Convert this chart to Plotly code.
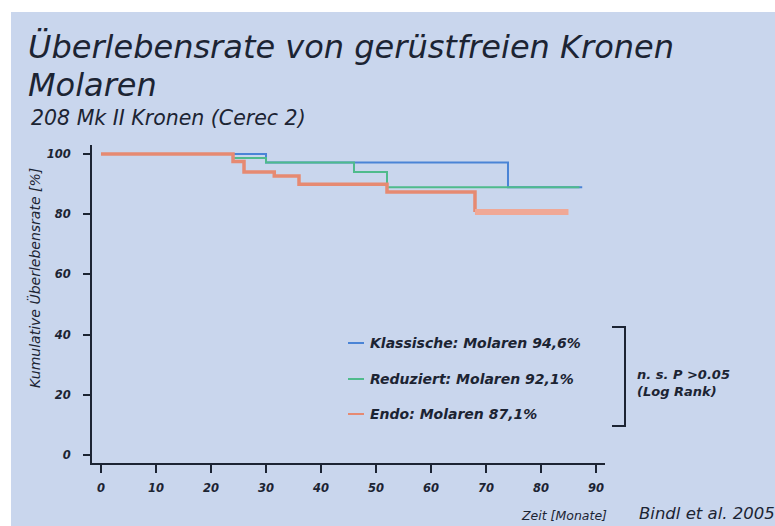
import plotly.graph_objects as go

# ---- data ----
klass_t = [0, 30, 74, 87.5]
klass_s = [100, 97.2, 89, 89]
reduz_t = [0, 24, 30, 46, 52, 87]
reduz_s = [100, 98.7, 97.2, 94, 89, 89]
endo_t = [0, 24, 26, 31.5, 36, 52, 68]
endo_s = [100, 97.5, 94, 92.7, 90, 87.4, 80.7]
endo_tail_t = [68, 85]
endo_tail_s = [80.7, 80.7]

legend_labels = ["Klassische: Molaren 94,6%", "Reduziert: Molaren 92,1%", "Endo: Molaren 87,1%"]
x_ticks = [0, 10, 20, 30, 40, 50, 60, 70, 80, 90]
y_ticks = [0, 20, 40, 60, 80, 100]

BLUE = "#4a84d6"
GREEN = "#4fbb8c"
ORANGE = "#e68a72"
ORANGE_LIGHT = "#f0a896"
BG = "#c9d6ed"
INK = "#1c2433"
FONT = "DejaVu Sans"

W, H = 775, 526
L, R, T, B = 92, 170, 145, 63
pw, ph = W - L - R, H - T - B


def px(x):
    return (x - L) / pw


def py(y):
    return (H - B - y) / ph


fig = go.Figure()
fig.add_trace(go.Scatter(x=klass_t, y=klass_s, mode="lines", line=dict(color=BLUE, width=2, shape="hv"),
                         name=legend_labels[0], showlegend=False))
fig.add_trace(go.Scatter(x=reduz_t, y=reduz_s, mode="lines", line=dict(color=GREEN, width=2, shape="hv"),
                         name=legend_labels[1], showlegend=False))
fig.add_trace(go.Scatter(x=endo_t, y=endo_s, mode="lines", line=dict(color=ORANGE, width=3.5, shape="hv"),
                         name=legend_labels[2], showlegend=False))
fig.add_trace(go.Scatter(x=endo_tail_t, y=endo_tail_s, mode="lines", line=dict(color=ORANGE_LIGHT, width=6, shape="hv"),
                         showlegend=False, hoverinfo="skip"))

shapes = []
# blue panel background with white border at top/left
shapes.append(dict(type="rect", xref="paper", yref="paper", x0=px(11), x1=px(W + 5), y0=py(12), y1=py(H + 5),
                   fillcolor=BG, line=dict(width=0), layer="below"))

annotations = []
# legend
leg_y = [343, 379, 414]
leg_c = [BLUE, GREEN, ORANGE]
for lab, yy, c in zip(legend_labels, leg_y, leg_c):
    shapes.append(dict(type="line", xref="paper", yref="paper", x0=px(348), x1=px(364), y0=py(yy), y1=py(yy),
                       line=dict(color=c, width=2)))
    annotations.append(dict(xref="paper", yref="paper", x=px(368), y=py(yy), xanchor="left", yanchor="middle",
                            text="<i>" + lab + "</i>", showarrow=False,
                            font=dict(family=FONT, size=14, color=INK, weight="bold")))
# bracket
shapes.append(dict(type="path", xref="paper", yref="paper",
                   path=f"M {px(612)} {py(327)} L {px(625)} {py(327)} L {px(625)} {py(426)} L {px(612)} {py(426)}",
                   line=dict(color=INK, width=2)))
annotations.append(dict(xref="paper", yref="paper", x=px(635), y=py(383), xanchor="left", yanchor="middle",
                        text="<i>n. s. P >0.05<br>(Log Rank)</i>", showarrow=False, align="left",
                        font=dict(family=FONT, size=13, color=INK, weight="bold")))
# titles
annotations.append(dict(xref="paper", yref="paper", x=px(26), y=py(47), xanchor="left", yanchor="middle",
                        text="<i>Überlebensrate von gerüstfreien Kronen</i>", showarrow=False,
                        font=dict(family=FONT, size=32, color=INK)))
annotations.append(dict(xref="paper", yref="paper", x=px(26), y=py(84.5), xanchor="left", yanchor="middle",
                        text="<i>Molaren</i>", showarrow=False,
                        font=dict(family=FONT, size=32, color=INK)))
annotations.append(dict(xref="paper", yref="paper", x=px(29), y=py(118), xanchor="left", yanchor="middle",
                        text="<i>208 Mk II Kronen (Cerec 2)</i>", showarrow=False,
                        font=dict(family=FONT, size=20.5, color=INK)))
annotations.append(dict(xref="paper", yref="paper", x=px(609), y=py(515), xanchor="right", yanchor="middle",
                        text="<i>Zeit [Monate]</i>", showarrow=False,
                        font=dict(family=FONT, size=12.5, color=INK)))
annotations.append(dict(xref="paper", yref="paper", x=px(637), y=py(513), xanchor="left", yanchor="middle",
                        text="<i>Bindl et al. 2005</i>", showarrow=False,
                        font=dict(family=FONT, size=16.5, color=INK)))
annotations.append(dict(xref="paper", yref="paper", x=px(34), y=py(278), xanchor="center", yanchor="middle",
                        text="<i>Kumulative Überlebensrate [%]</i>", showarrow=False, textangle=-90,
                        font=dict(family=FONT, size=14, color=INK)))

fig.update_layout(
    width=W, height=H,
    margin=dict(l=L, r=R, t=T, b=B),
    paper_bgcolor="white",
    plot_bgcolor=BG,
    shapes=shapes,
    annotations=annotations,
    xaxis=dict(range=[-1.64, 91.64], tickvals=x_ticks, ticktext=[f"<i>{v}</i>" for v in x_ticks],
               showgrid=False, zeroline=False, showline=True, linecolor=INK, linewidth=2,
               ticks="outside", ticklen=8, tickwidth=2, tickcolor=INK, ticklabelstandoff=5,
               tickfont=dict(family=FONT, size=11.5, color=INK, weight="bold")),
    yaxis=dict(range=[-2.66, 103], tickvals=y_ticks, ticktext=[f"<i>{v}</i>" for v in y_ticks],
               showgrid=False, zeroline=False, showline=True, linecolor=INK, linewidth=2,
               ticks="outside", ticklen=7, tickwidth=2, tickcolor=INK, ticklabelstandoff=10,
               tickfont=dict(family=FONT, size=11.5, color=INK, weight="bold")),
)

fig.write_html("out.html", config={"displayModeBar": False},
               post_script="document.body.style.margin='0px';document.body.style.overflow='hidden';")
